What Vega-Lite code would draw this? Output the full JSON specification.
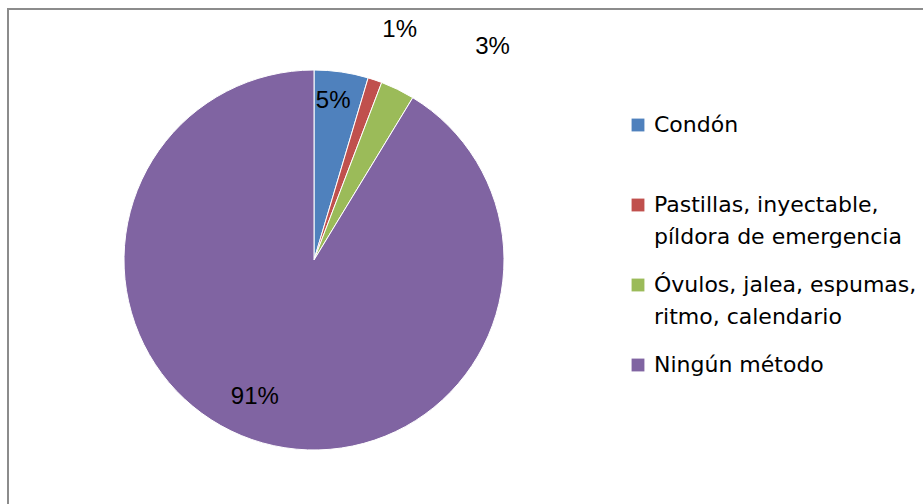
{
  "$schema": "https://vega.github.io/schema/vega-lite/v6.json",
  "width": 960,
  "height": 520,
  "autosize": {"type": "none"},
  "padding": {"left": 8, "top": 9, "right": 0, "bottom": 0},
  "background": "white",
  "view": {"stroke": "#8c8c8c", "strokeWidth": 2, "fill": "white"},
  "config": {
    "view": {"stroke": "#8c8c8c", "strokeWidth": 2},
    "font": "Liberation Sans",
    "style": {"guide-label": {"lineHeight": 32}}
  },
  "data": {
    "values": [
      {"categoria": "Condón", "valor": 0.046, "orden": 1},
      {"categoria": "Pastillas, inyectable,\npíldora de emergencia", "valor": 0.012, "orden": 2},
      {"categoria": "Óvulos, jalea, espumas,\nritmo, calendario", "valor": 0.029, "orden": 3},
      {"categoria": "Ningún método", "valor": 0.913, "orden": 4}
    ]
  },
  "encoding": {
    "theta": {"field": "valor", "type": "quantitative", "stack": true},
    "order": {"field": "orden", "type": "ordinal"}
  },
  "layer": [
    {
      "mark": {"type": "arc", "x": 306, "y": 251, "outerRadius": 190, "stroke": "white", "strokeWidth": 1},
      "encoding": {
        "color": {
          "field": "categoria",
          "type": "nominal",
          "sort": ["Condón", "Pastillas, inyectable,\npíldora de emergencia", "Óvulos, jalea, espumas,\nritmo, calendario", "Ningún método"],
          "scale": {"range": ["#4F81BD", "#C0504D", "#9BBB59", "#8064A2"]},
          "legend": {
            "title": null,
            "orient": "none",
            "legendX": 619,
            "legendY": 105,
            "symbolType": "square",
            "symbolSize": 165,
            "symbolStrokeWidth": 0,
            "labelFont": "DejaVu Sans",
            "labelFontSize": 22,
            "labelColor": "black",
            "labelLimit": 400,
            "labelOffset": 5,
            "rowPadding": 26,
            "gridAlign": "all",
            "labelExpr": "split(datum.label, '\\n')"
          }
        }
      }
    },
    {
      "mark": {"type": "text", "x": 306, "y": 251, "radius": 161, "dx": -4, "fontSize": 24, "color": "black"},
      "encoding": {
        "text": {"condition": {"test": "datum.orden === 1", "field": "valor", "format": ".0%"}, "value": ""}
      }
    },
    {
      "mark": {"type": "text", "x": 306, "y": 251, "radius": 245, "dx": 7, "dy": 2, "fontSize": 24, "color": "black"},
      "encoding": {
        "text": {"condition": {"test": "datum.orden === 2", "field": "valor", "format": ".0%"}, "value": ""}
      }
    },
    {
      "mark": {"type": "text", "x": 306, "y": 251, "radius": 240, "dx": 73, "dy": 3, "fontSize": 24, "color": "black"},
      "encoding": {
        "text": {"condition": {"test": "datum.orden === 3", "field": "valor", "format": ".0%"}, "value": ""}
      }
    },
    {
      "mark": {"type": "text", "x": 306, "y": 251, "radius": 145, "dx": -20, "dy": -3, "fontSize": 24, "color": "black"},
      "encoding": {
        "text": {"condition": {"test": "datum.orden === 4", "field": "valor", "format": ".0%"}, "value": ""}
      }
    }
  ]
}
